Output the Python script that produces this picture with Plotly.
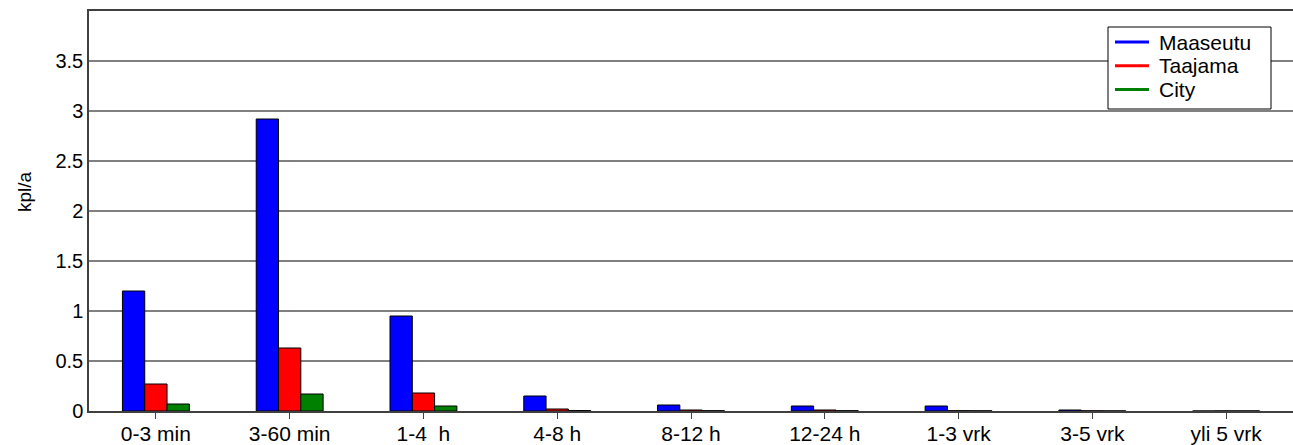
import plotly.graph_objects as go

categories = ["0-3 min", "3-60 min", "1-4  h", "4-8 h", "8-12 h", "12-24 h", "1-3 vrk", "3-5 vrk", "yli 5 vrk"]
maaseutu = [1.20, 2.92, 0.95, 0.15, 0.06, 0.05, 0.05, 0.01, 0.0]
taajama = [0.27, 0.63, 0.18, 0.02, 0.01, 0.01, 0.003, 0.002, 0.001]
city = [0.07, 0.17, 0.05, 0.005, 0.003, 0.003, 0.002, 0.001, 0.001]
series_names = ["Maaseutu", "Taajama", "City"]
series_colors = ["#0000ff", "#ff0000", "#008000"]
yticks = [0, 0.5, 1, 1.5, 2, 2.5, 3, 3.5]

W, H = 1293, 445
L, R, T, B = 89, 0, 11, 34
PW, PH = W - L - R, H - T - B


def px(x):
    return (x - L) / PW


def py(y):
    return (H - B - y) / PH


xpos = list(range(1, len(categories) + 1))
fig = go.Figure()
for name, vals, col in zip(series_names, [maaseutu, taajama, city], series_colors):
    fig.add_trace(go.Bar(x=xpos, y=vals, name=name,
                         marker=dict(color=col, line=dict(color="black", width=1)),
                         showlegend=False))

font = "Liberation Sans, Arial, sans-serif"

# manual legend box (line symbols like the reference)
shapes = [dict(type="rect", xref="paper", yref="paper", x0=px(1108), x1=px(1271), y0=py(109), y1=py(27),
               line=dict(color="black", width=1), fillcolor="white", layer="above")]
annotations = []
for i, (name, col) in enumerate(zip(series_names, series_colors)):
    yc = 42 + i * 23.7
    shapes.append(dict(type="line", xref="paper", yref="paper", x0=px(1115), x1=px(1149), y0=py(yc), y1=py(yc),
                       line=dict(color=col, width=3), layer="above"))
    annotations.append(dict(xref="paper", yref="paper", x=px(1157), y=py(yc), xanchor="left", yanchor="middle",
                            text=name, showarrow=False, font=dict(size=21, color="black", family=font)))
annotations.append(dict(xref="paper", yref="paper", x=px(24), y=py(192), xanchor="center", yanchor="middle",
                        text="kpl/a", textangle=-90, showarrow=False,
                        font=dict(size=19, color="black", family=font)))

fig.update_layout(
    width=W, height=H,
    margin=dict(l=L, r=R, t=T, b=B),
    paper_bgcolor="white", plot_bgcolor="white",
    barmode="group", bargap=0.5, bargroupgap=0,
    font=dict(family=font, size=20, color="black"),
    showlegend=False,
    shapes=shapes, annotations=annotations,
    xaxis=dict(range=[0.5, 9.5], tickmode="array", tickvals=xpos, ticktext=categories,
               showgrid=False, showline=True, linecolor="#404040", linewidth=1.5, mirror=True,
               ticks="outside", ticklen=6, tickcolor="#404040", tickfont=dict(size=21), zeroline=False,
               ticklabelstandoff=-3, automargin=False),
    yaxis=dict(range=[0, 4], tickmode="array", tickvals=yticks, ticktext=[f"{v:g}" for v in yticks],
               showgrid=True, gridcolor="#808080", gridwidth=1.5, showline=True, linecolor="#404040",
               linewidth=1.5, mirror=True, ticks="", tickfont=dict(size=20), zeroline=False,
               automargin=False),
)
post = ("document.body.style.margin='0';document.body.style.overflow='hidden';"
        "var gd=document.getElementById('{plot_id}');Plotly.relayout(gd,{width:1293,height:445});")
fig.write_html("out.html", post_script=post, config={"displayModeBar": False})
